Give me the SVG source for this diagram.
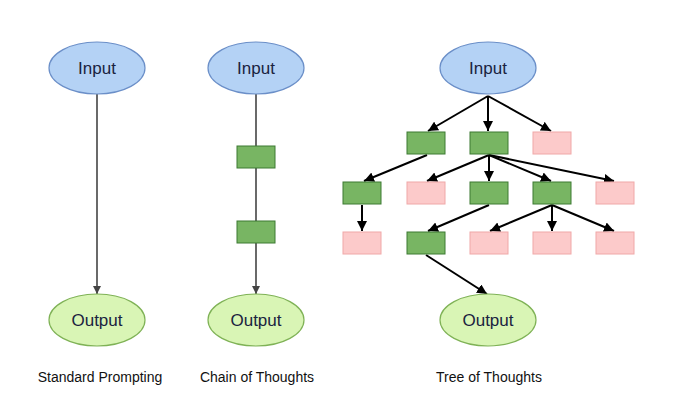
<svg xmlns="http://www.w3.org/2000/svg" width="693" height="410" viewBox="0 0 693 410">
<style>
.in{fill:#b4d2f5;stroke:#6b8fc8;stroke-width:1.2}
.out{fill:#d9f5b5;stroke:#7fb256;stroke-width:1.2}
.g{fill:#78b563;stroke:#3d7a32;stroke-width:1}
.p{fill:#fccaca;stroke:#f0a8a8;stroke-width:1}
.t{font-family:"Liberation Sans",Arial,sans-serif;font-size:17px;fill:#1a2340;text-anchor:middle}
.c{font-family:"Liberation Sans",Arial,sans-serif;font-size:14px;fill:#111;text-anchor:middle}
.k{stroke:#000;stroke-width:2;fill:none;marker-end:url(#ab)}
.s{stroke:#444;stroke-width:1.6;fill:none}
</style>
<defs>
<marker id="ab" viewBox="0 0 10 10" refX="10" refY="5" markerWidth="5" markerHeight="5" orient="auto" markerUnits="strokeWidth"><path d="M0,0L10,5L0,10z" fill="#000"/></marker>
<marker id="ag" viewBox="0 0 10 10" refX="10" refY="5" markerWidth="5" markerHeight="5" orient="auto" markerUnits="strokeWidth"><path d="M0,0L10,5L0,10z" fill="#444"/></marker>
</defs>
<rect width="693" height="410" fill="#fff"/>
<g id="connectors">
<line class="s" x1="97" y1="94" x2="97" y2="294" marker-end="url(#ag)"/>
<line class="s" x1="256" y1="94" x2="256" y2="146"/>
<line class="s" x1="256" y1="168" x2="256" y2="221"/>
<line class="s" x1="256" y1="243" x2="256" y2="294" marker-end="url(#ag)"/>
<line class="k" x1="488" y1="96" x2="428" y2="131"/>
<line class="k" x1="488" y1="96" x2="488" y2="131"/>
<line class="k" x1="488" y1="96" x2="551" y2="131"/>
<line class="k" x1="427" y1="155" x2="364" y2="181"/>
<line class="k" x1="489" y1="155" x2="427" y2="181"/>
<line class="k" x1="489" y1="155" x2="489" y2="181"/>
<line class="k" x1="489" y1="155" x2="551" y2="181"/>
<line class="k" x1="489" y1="155" x2="614" y2="181"/>
<line class="k" x1="362" y1="205" x2="362" y2="231"/>
<line class="k" x1="489" y1="205" x2="428" y2="231"/>
<line class="k" x1="552" y1="205" x2="490" y2="231"/>
<line class="k" x1="552" y1="205" x2="552" y2="231"/>
<line class="k" x1="552" y1="205" x2="614" y2="231"/>
<line class="k" x1="426" y1="255" x2="487" y2="294"/>
</g>
<g id="sp-input"><ellipse class="in" cx="97" cy="68" rx="48" ry="26"/><text class="t" x="97" y="74">Input</text></g>
<g id="sp-output"><ellipse class="out" cx="97" cy="320" rx="48" ry="26"/><text class="t" x="97" y="326">Output</text></g>
<g id="cot-input"><ellipse class="in" cx="256" cy="68" rx="48" ry="26"/><text class="t" x="256" y="74">Input</text></g>
<g id="cot-1"><rect class="g" x="237" y="146" width="38" height="22"/></g>
<g id="cot-2"><rect class="g" x="237" y="221" width="38" height="22"/></g>
<g id="cot-output"><ellipse class="out" cx="256" cy="320" rx="48" ry="26"/><text class="t" x="256" y="326">Output</text></g>
<g id="tot-input"><ellipse class="in" cx="488" cy="68" rx="48" ry="26"/><text class="t" x="488" y="74">Input</text></g>
<g id="tot-r1a"><rect class="g" x="407" y="132" width="38" height="22"/></g>
<g id="tot-r1b"><rect class="g" x="470" y="132" width="38" height="22"/></g>
<g id="tot-r1c"><rect class="p" x="533" y="132" width="38" height="22"/></g>
<g id="tot-r2a"><rect class="g" x="343" y="182" width="38" height="22"/></g>
<g id="tot-r2b"><rect class="p" x="407" y="182" width="38" height="22"/></g>
<g id="tot-r2c"><rect class="g" x="470" y="182" width="38" height="22"/></g>
<g id="tot-r2d"><rect class="g" x="533" y="182" width="38" height="22"/></g>
<g id="tot-r2e"><rect class="p" x="596" y="182" width="38" height="22"/></g>
<g id="tot-r3a"><rect class="p" x="343" y="232" width="38" height="22"/></g>
<g id="tot-r3b"><rect class="g" x="407" y="232" width="38" height="22"/></g>
<g id="tot-r3c"><rect class="p" x="470" y="232" width="38" height="22"/></g>
<g id="tot-r3d"><rect class="p" x="533" y="232" width="38" height="22"/></g>
<g id="tot-r3e"><rect class="p" x="596" y="232" width="38" height="22"/></g>
<g id="tot-output"><ellipse class="out" cx="488" cy="320" rx="48" ry="26"/><text class="t" x="488" y="326">Output</text></g>
<text class="c" x="100" y="382">Standard Prompting</text>
<text class="c" x="257" y="382">Chain of Thoughts</text>
<text class="c" x="489" y="382">Tree of Thoughts</text>
</svg>
